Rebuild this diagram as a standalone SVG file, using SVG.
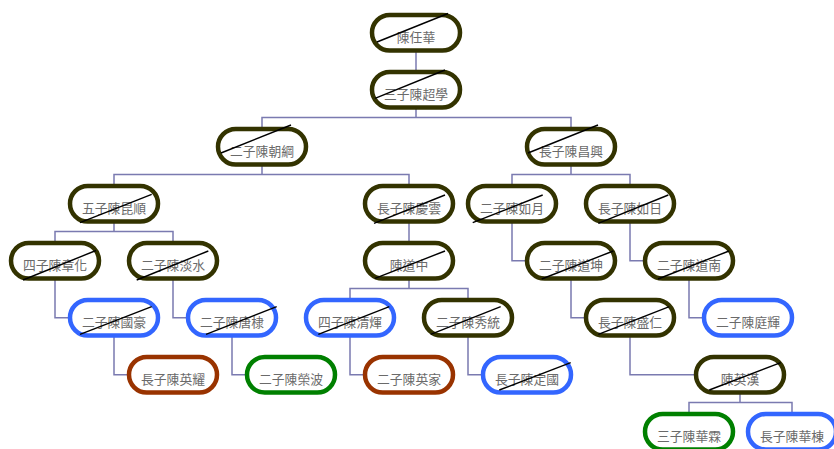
<svg xmlns="http://www.w3.org/2000/svg" width="834" height="449" viewBox="0 0 834 449">
<style>
.n rect{fill:#fff;stroke-width:4.5}
.d rect{stroke:#333300}
.b rect{stroke:#3366ff}
.r rect{stroke:#993300}
.g rect{stroke:#008000}
.n text{font-family:"Noto Sans CJK TC","Noto Sans CJK SC",sans-serif;font-size:12.8px;fill:#6a6a6a;text-anchor:middle}
.n line{stroke:#000;stroke-width:1.4}
#connectors path{fill:none;stroke:#7a7ab0;stroke-width:1.5}
</style>
<rect width="834" height="449" fill="#fff"/>
<g id="connectors">
<path d="M416 50V73"/>
<path d="M416 107V117.5H262V130M416 117.5H571V130"/>
<path d="M262 164V174.5H114V187M262 174.5H409V187"/>
<path d="M571 164V174.5H512V187M571 174.5H630V187"/>
<path d="M114 221V231.5H55V244M114 231.5H173V244"/>
<path d="M409 221V244"/>
<path d="M512 221V260.75H527"/>
<path d="M630 221V260.75H645"/>
<path d="M55 278V317.75H70"/>
<path d="M173 278V317.75H188"/>
<path d="M409 278V288.5H350V301M409 288.5H468V301"/>
<path d="M571 278V317.75H586"/>
<path d="M689 278V317.75H704"/>
<path d="M114 335V374.75H129"/>
<path d="M232 335V374.75H247"/>
<path d="M350 335V374.75H365"/>
<path d="M468 335V374.75H483"/>
<path d="M630 335V374.75H696"/>
<path d="M740 392V402.5H689V415M740 402.5H792V415"/>
</g>
<g id="nA" class="n d"><rect x="372" y="15" width="88" height="35.5" rx="17.75"/><text x="416" y="42">陳任華</text><line x1="377" y1="42" x2="448" y2="13.5"/></g>
<g id="nB" class="n d"><rect x="372" y="72" width="88" height="35.5" rx="17.75"/><text x="416" y="99">三子陳超學</text><line x1="375" y1="98.3" x2="445" y2="70"/></g>
<g id="nC" class="n d"><rect x="218" y="129" width="88" height="35.5" rx="17.75"/><text x="262" y="156">二子陳朝綱</text><line x1="221" y1="153" x2="291" y2="125"/></g>
<g id="nD" class="n d"><rect x="527" y="129" width="88" height="35.5" rx="17.75"/><text x="571" y="156">長子陳昌興</text><line x1="528" y1="153" x2="598" y2="125"/></g>
<g id="nE" class="n d"><rect x="70" y="186" width="88" height="35.5" rx="17.75"/><text x="114" y="213">五子陳昆順</text><line x1="80" y1="222.7" x2="151.7" y2="194.3"/></g>
<g id="nF" class="n d"><rect x="365" y="186" width="88" height="35.5" rx="17.75"/><text x="409" y="213">長子陳慶雲</text><line x1="374" y1="223.3" x2="445" y2="195"/></g>
<g id="nG" class="n d"><rect x="468" y="186" width="88" height="35.5" rx="17.75"/><text x="512" y="213">二子陳如月</text><line x1="472.7" y1="222.7" x2="542.7" y2="195"/></g>
<g id="nH" class="n d"><rect x="586" y="186" width="88" height="35.5" rx="17.75"/><text x="630" y="213">長子陳如日</text><line x1="598.3" y1="223.3" x2="668.3" y2="195"/></g>
<g id="nI" class="n d"><rect x="11" y="243" width="88" height="35.5" rx="17.75"/><text x="55" y="270">四子陳章化</text><line x1="23" y1="280" x2="96" y2="250.5"/></g>
<g id="nJ" class="n d"><rect x="129" y="243" width="88" height="35.5" rx="17.75"/><text x="173" y="270">二子陳淡水</text><line x1="136.7" y1="280" x2="208.3" y2="251"/></g>
<g id="nK" class="n d"><rect x="365" y="243" width="88" height="35.5" rx="17.75"/><text x="409" y="270">陳道中</text><line x1="375" y1="278.3" x2="445" y2="251"/></g>
<g id="nL" class="n d"><rect x="527" y="243" width="88" height="35.5" rx="17.75"/><text x="571" y="270">二子陳道坤</text><line x1="541.7" y1="279" x2="613.3" y2="251"/></g>
<g id="nM" class="n d"><rect x="645" y="243" width="88" height="35.5" rx="17.75"/><text x="689" y="270">二子陳道南</text><line x1="658" y1="279" x2="729" y2="251"/></g>
<g id="nN" class="n b"><rect x="70" y="300" width="88" height="35.5" rx="17.75"/><text x="114" y="327">二子陳國豪</text><line x1="80" y1="334.3" x2="151.7" y2="306.7"/></g>
<g id="nO" class="n b"><rect x="188" y="300" width="88" height="35.5" rx="17.75"/><text x="232" y="327">二子陳唐棣</text><line x1="206" y1="334.3" x2="276.7" y2="306.7"/></g>
<g id="nP" class="n b"><rect x="306" y="300" width="88" height="35.5" rx="17.75"/><text x="350" y="327">四子陳清煇</text><line x1="318.3" y1="334.3" x2="389.3" y2="306.7"/></g>
<g id="nQ" class="n d"><rect x="424" y="300" width="88" height="35.5" rx="17.75"/><text x="468" y="327">二子陳秀統</text><line x1="430.7" y1="334.3" x2="500.7" y2="306.7"/></g>
<g id="nR" class="n d"><rect x="586" y="300" width="88" height="35.5" rx="17.75"/><text x="630" y="327">長子陳盛仁</text><line x1="598.3" y1="334.3" x2="669.3" y2="306.7"/></g>
<g id="nS" class="n b"><rect x="704" y="300" width="88" height="35.5" rx="17.75"/><text x="748" y="327">二子陳庭輝</text></g>
<g id="nT" class="n r"><rect x="129" y="357" width="88" height="35.5" rx="17.75"/><text x="173" y="384">長子陳英耀</text></g>
<g id="nU" class="n g"><rect x="247" y="357" width="88" height="35.5" rx="17.75"/><text x="291" y="384">二子陳榮波</text></g>
<g id="nV" class="n r"><rect x="365" y="357" width="88" height="35.5" rx="17.75"/><text x="409" y="384">二子陳英家</text></g>
<g id="nW" class="n b"><rect x="483" y="357" width="88" height="35.5" rx="17.75"/><text x="527" y="384">長子陳定國</text><line x1="499.3" y1="390" x2="570.7" y2="362.7"/></g>
<g id="nX" class="n d"><rect x="696" y="357" width="88" height="35.5" rx="17.75"/><text x="740" y="384">陳英漢</text><line x1="709.3" y1="390" x2="780.7" y2="362.7"/></g>
<g id="nY" class="n g"><rect x="645" y="414" width="88" height="35.5" rx="17.75"/><text x="689" y="441">三子陳華霖</text></g>
<g id="nZ" class="n b"><rect x="748" y="414" width="88" height="35.5" rx="17.75"/><text x="792" y="441">長子陳華棟</text></g>
</svg>
